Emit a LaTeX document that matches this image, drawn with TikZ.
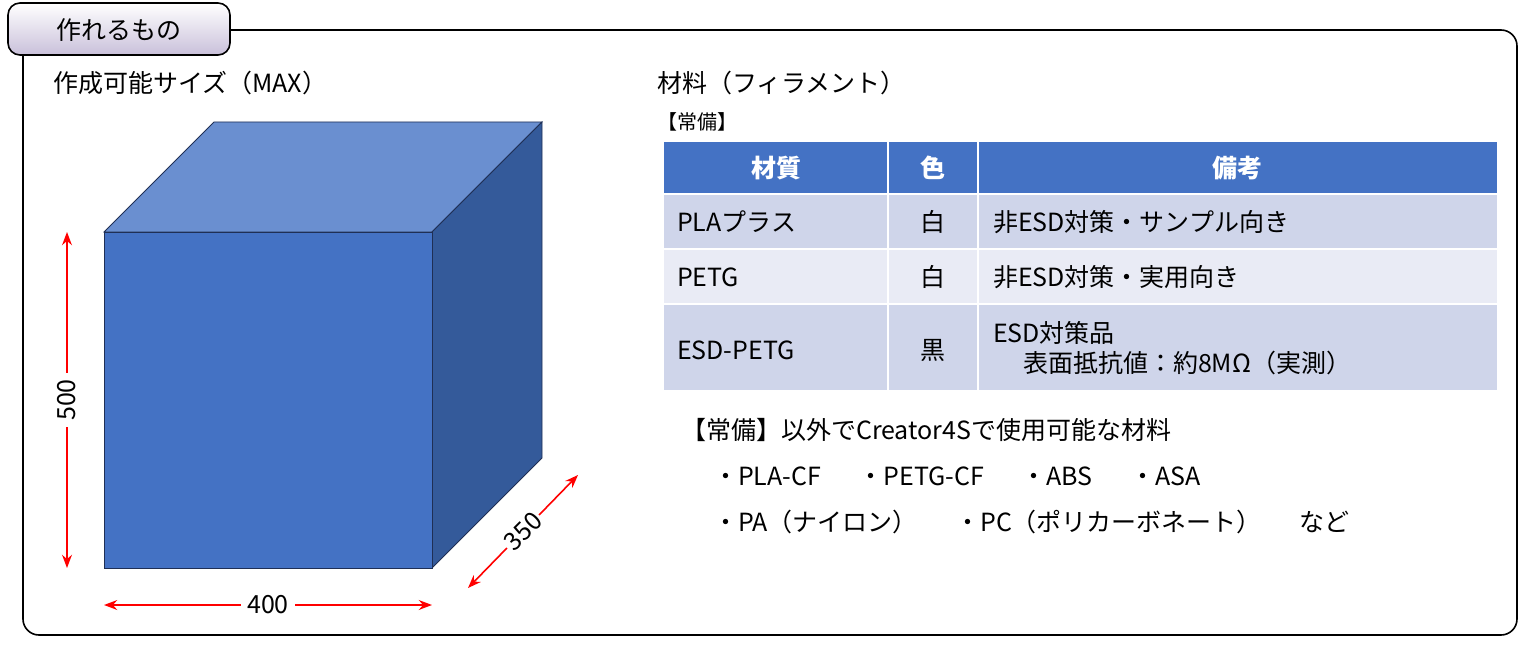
\documentclass[tikz,border=0pt]{standalone}
\usepackage{fontspec}
\setmainfont{Noto Sans CJK JP}
\usetikzlibrary{arrows.meta,positioning}
\definecolor{hdr}{HTML}{4472C4}
\definecolor{rowa}{HTML}{CFD5EA}
\definecolor{rowb}{HTML}{E9EBF5}
\definecolor{cubetop}{HTML}{6A8FD0}
\definecolor{cubeside}{HTML}{345A9A}
\definecolor{cubeedge}{HTML}{1F2F55}
\definecolor{tabc}{HTML}{C9C0DA}
\begin{document}
\begin{tikzpicture}[x=0.5pt,y=-0.5pt,
dim/.style={%
draw=red, thick, {Stealth}-{Stealth}
},
lbl/.style={%
font=\fontsize{12.5}{15}\selectfont
}
]
\useasboundingbox (0,0) rectangle (1526,647);
%% Frame and tab
\draw[thick,rounded corners=8pt](23,30)rectangle(1517,635);
\shade[top color=white,bottom color=tabc,draw=black,thick,rounded corners=6pt](8,3)rectangle(230,55);
\node[lbl]at(119,30)(title){作れるもの};
%% Size
\node[lbl,anchor=west]at(46,83)(size){作成可能サイズ（MAX）};
\coordinate(fa)at(104,232);\coordinate(fb)at(432,232);
\coordinate(fc)at(432,568);\coordinate(fd)at(104,568);
\coordinate(ba)at(214,122);\coordinate(bb)at(542,122);
\coordinate(bc)at(542,458);
\filldraw[fill=cubetop,draw=cubeedge](fa)--(ba)--(bb)--(fb)--cycle;
\filldraw[fill=cubeside,draw=cubeedge](fb)--(bb)--(bc)--(fc)--cycle;
\filldraw[fill=hdr,draw=cubeedge](fa)rectangle(fc);
%% Dimensions
\coordinate(v1)at(67,232);\coordinate(v2)at(67,568);
\draw[dim](v1)--(v2)node[midway,fill=white,rotate=90,lbl,inner sep=3pt]{500};
\coordinate(h1)at(104,605);\coordinate(h2)at(432,605);
\draw[dim](h1)--(h2)node[midway,fill=white,lbl,inner sep=3pt]{400};
\coordinate(d1)at(468,588);\coordinate(d2)at(578,475);
\draw[dim](d1)--(d2)node[midway,fill=white,rotate=45,lbl,inner sep=1pt]{350};
%% Material
\node[lbl,anchor=west]at(650,83)(mat){材料（フィラメント）};
\node[anchor=west,font=\fontsize{10}{12}\selectfont]at(650,122)(std){【常備】};
%% Table
\fill[hdr](664,142)rectangle(1497,193);
\fill[rowa](664,195)rectangle(1497,248);
\fill[rowb](664,250)rectangle(1497,303);
\fill[rowa](664,305)rectangle(1497,390);
\draw[white,thick](888,142)--(888,390);
\draw[white,thick](978,142)--(978,390);
\node[text=white,font=\bfseries\fontsize{12.5}{15}\selectfont]at(776,168)(t1){材質};
\node[text=white,font=\bfseries\fontsize{12.5}{15}\selectfont]at(933,168)(t2){色};
\node[text=white,font=\bfseries\fontsize{12.5}{15}\selectfont]at(1237,168)(t3){備考};
\node[lbl,anchor=west]at(670,222)(m1){PLAプラス};
\node[lbl]at(933,222)(c1){白};
\node[lbl,anchor=west]at(986,222)(r1){非ESD対策・サンプル向き};
\node[lbl,anchor=west]at(670,277)(m2){PETG};
\node[lbl]at(933,277)(c2){白};
\node[lbl,anchor=west]at(986,277)(r2){非ESD対策・実用向き};
\node[lbl,anchor=west]at(670,350)(m3){ESD-PETG};
\node[lbl]at(933,350)(c3){黒};
\node[lbl,anchor=west,align=left]at(986,348)(r3){ESD対策品\\\hspace{1.2em}表面抵抗値：約8MΩ（実測）};
%% Others
\node[lbl,anchor=west]at(674,430)(oth){【常備】以外でCreator4Sで使用可能な材料};
\node[lbl,anchor=west]at(706,476)(l1){・PLA-CF\hspace{1.5em}・PETG-CF\hspace{1.5em}・ABS\hspace{1.5em}・ASA};
\node[lbl,anchor=west]at(706,522)(l2){・PA（ナイロン）\hspace{1.5em}・PC（ポリカーボネート）\hspace{1.5em}など};
\end{tikzpicture}
\end{document}
